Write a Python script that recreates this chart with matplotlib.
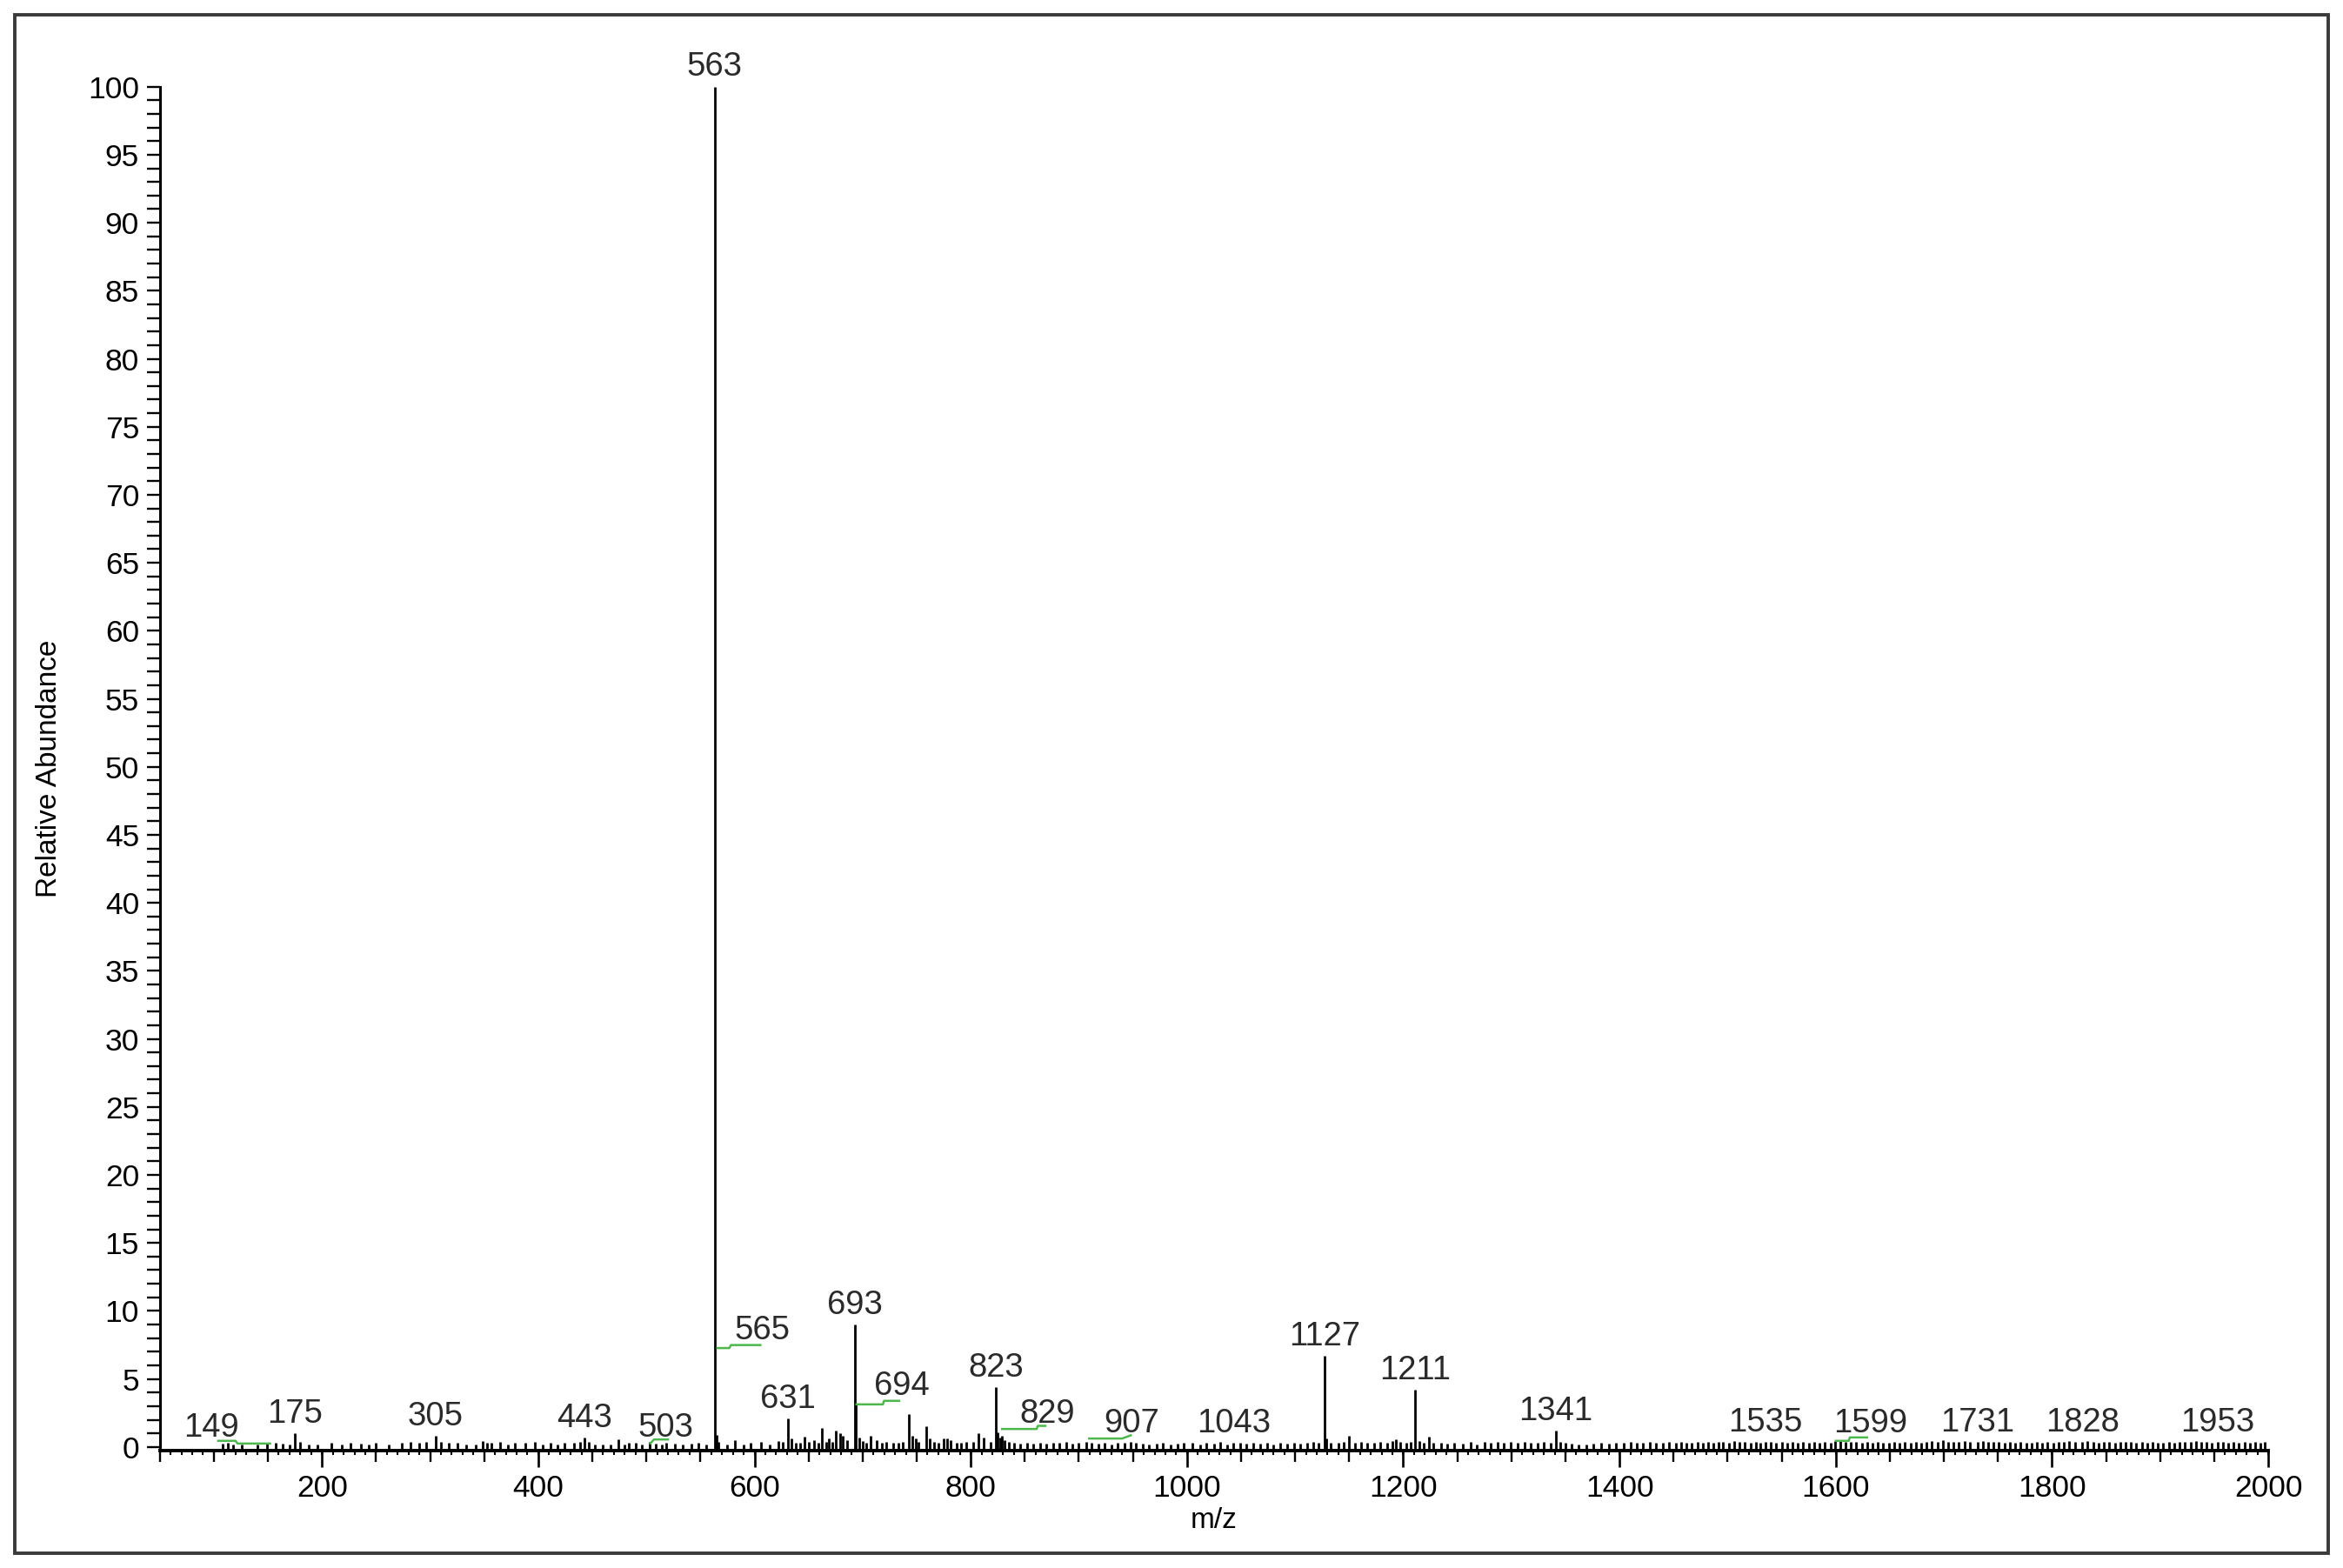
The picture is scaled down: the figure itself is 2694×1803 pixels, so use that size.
import matplotlib
matplotlib.use("Agg")
import matplotlib.pyplot as plt
from matplotlib.patches import Rectangle
from matplotlib.ticker import MultipleLocator

plt.rcParams['font.family'] = ['Liberation Sans', 'DejaVu Sans']

# --- labelled peaks (m/z, relative abundance) ---
label_mz = [149, 175, 305, 443, 503, 563, 565, 631, 693, 694, 823, 829,
            907, 1043, 1127, 1211, 1341, 1535, 1599, 1731, 1828, 1953]
label_ab = [0.3, 1.0, 0.8, 0.7, 0.35, 100, 0.9, 2.1, 9.0, 3.1, 4.4, 0.8,
            0.35, 0.3, 6.7, 4.2, 1.2, 0.35, 0.45, 0.35, 0.35, 0.35]

# --- other visible peaks ---
other_mz = [582, 596, 606, 622, 626, 634, 642, 646, 655, 662, 666, 669, 672,
            675, 679, 682, 686, 697, 700, 707, 713, 722, 743, 746, 749, 759,
            762, 766, 775, 778, 781, 796, 807, 812, 818, 825, 827, 831,
            1129, 1150, 1190, 1193, 1215, 1224, 1275]
other_ab = [0.5, 0.3, 0.35, 0.45, 0.35, 0.6, 0.3, 0.75, 0.5, 1.4, 0.4, 0.6, 0.4,
            1.2, 1.0, 0.8, 0.5, 0.7, 0.45, 0.8, 0.5, 0.35, 2.4, 0.8, 0.6, 1.5,
            0.6, 0.4, 0.6, 0.6, 0.5, 0.4, 1.0, 0.7, 0.35, 1.1, 0.7, 0.5,
            0.6, 0.8, 0.45, 0.55, 0.45, 0.75, 0.4]

# --- baseline noise ---
noise_mz = [108, 113, 118, 126, 140, 157, 164, 170, 180, 188, 196, 209, 218, 226,
            236, 243, 250, 262, 274, 282, 290, 296, 310, 317, 325, 333, 342, 349,
            353, 357, 365, 372, 378, 388, 397, 404, 411, 418, 424, 433, 439, 447,
            452, 460, 467, 474, 480, 484, 490, 496, 509, 514, 518, 526, 534, 542,
            548, 555, 567, 575, 590, 614, 638, 650, 659, 703, 718, 728, 733, 737,
            752, 770, 787, 791, 802, 835, 840, 846, 852, 858, 864, 870, 876, 882,
            888, 894, 900, 912, 918, 924, 930, 936, 942, 948, 953, 959, 965, 972,
            978, 985, 991, 997, 1005, 1012, 1018, 1025, 1031, 1037, 1049, 1055,
            1061, 1068, 1074, 1080, 1086, 1093, 1099, 1105, 1111, 1117, 1122,
            1133, 1140, 1145, 1155, 1161, 1167, 1173, 1179, 1185, 1197, 1203,
            1207, 1219, 1228, 1235, 1241, 1247, 1255, 1262, 1268, 1281, 1287,
            1293, 1299, 1306, 1312, 1318, 1324, 1330, 1336, 1345, 1350, 1356,
            1362, 1369, 1376, 1383, 1390, 1397, 1404, 1410, 1416, 1422, 1428,
            1434, 1440, 1446, 1452, 1457, 1462, 1467, 1472, 1477, 1482, 1487,
            1492, 1496, 1501, 1506, 1511, 1516, 1521, 1526, 1530, 1540, 1545,
            1550, 1555, 1560, 1565, 1570, 1575, 1580, 1585, 1590, 1595, 1604,
            1609, 1614, 1619, 1624, 1629, 1634, 1639, 1644, 1649, 1654, 1659,
            1664, 1669, 1674, 1679, 1684, 1689, 1694, 1699, 1704, 1709, 1714,
            1719, 1724, 1736, 1741, 1746, 1751, 1756, 1761, 1766, 1771, 1776,
            1781, 1786, 1791, 1796, 1801, 1806, 1811, 1816, 1821, 1833, 1838,
            1843, 1848, 1853, 1858, 1863, 1868, 1873, 1878, 1883, 1888, 1893,
            1898, 1903, 1908, 1913, 1918, 1923, 1928, 1933, 1938, 1943, 1948,
            1958, 1963, 1968, 1973, 1978, 1983, 1988, 1993, 1997]
noise_ab = [0.25, 0.3, 0.2, 0.15, 0.15, 0.3, 0.25, 0.2, 0.35, 0.2, 0.15, 0.3, 0.2, 0.3,
            0.25, 0.15, 0.3, 0.15, 0.3, 0.35, 0.3, 0.4, 0.35, 0.3, 0.3, 0.2, 0.2, 0.45,
            0.3, 0.3, 0.35, 0.2, 0.3, 0.3, 0.35, 0.2, 0.3, 0.15, 0.3, 0.3, 0.35, 0.4,
            0.2, 0.2, 0.15, 0.55, 0.2, 0.3, 0.3, 0.2, 0.25, 0.2, 0.3, 0.25, 0.2, 0.25,
            0.3, 0.2, 0.4, 0.2, 0.2, 0.2, 0.3, 0.35, 0.3, 0.3, 0.3, 0.3, 0.3, 0.35,
            0.4, 0.3, 0.3, 0.3, 0.4, 0.35, 0.3, 0.25, 0.3, 0.25, 0.3, 0.25, 0.3, 0.3,
            0.35, 0.25, 0.3, 0.3, 0.25, 0.3, 0.2, 0.3, 0.3, 0.35, 0.3, 0.25, 0.2, 0.25,
            0.3, 0.2, 0.25, 0.3, 0.3, 0.2, 0.3, 0.25, 0.35, 0.2, 0.3, 0.25,
            0.3, 0.25, 0.3, 0.2, 0.3, 0.25, 0.3, 0.25, 0.3, 0.35, 0.3,
            0.3, 0.3, 0.35, 0.3, 0.35, 0.3, 0.3, 0.35, 0.3, 0.4, 0.3,
            0.35, 0.3, 0.3, 0.3, 0.25, 0.3, 0.25, 0.35, 0.2, 0.3, 0.35,
            0.3, 0.35, 0.3, 0.35, 0.3, 0.3, 0.35, 0.3, 0.35, 0.3, 0.25,
            0.2, 0.2, 0.25, 0.3, 0.25, 0.3, 0.3, 0.35, 0.3, 0.3, 0.35,
            0.3, 0.3, 0.35, 0.3, 0.35, 0.3, 0.3, 0.35, 0.3, 0.35, 0.3,
            0.35, 0.4, 0.3, 0.45, 0.35, 0.4, 0.3, 0.35, 0.3, 0.35, 0.3,
            0.4, 0.3, 0.35, 0.3, 0.4, 0.3, 0.35, 0.3, 0.35, 0.3, 0.45,
            0.4, 0.35, 0.4, 0.3, 0.35, 0.3, 0.35, 0.3, 0.3, 0.35, 0.3,
            0.35, 0.3, 0.35, 0.3, 0.4, 0.45, 0.35, 0.5, 0.4, 0.35, 0.4,
            0.45, 0.4, 0.45, 0.35, 0.4, 0.35, 0.3, 0.35, 0.3, 0.35, 0.3,
            0.3, 0.35, 0.3, 0.35, 0.3, 0.35, 0.4, 0.45, 0.35, 0.45, 0.35,
            0.3, 0.4, 0.35, 0.3, 0.35, 0.4, 0.35, 0.3, 0.35, 0.3, 0.35,
            0.3, 0.3, 0.35, 0.3, 0.35, 0.4, 0.35, 0.45, 0.4, 0.35, 0.3,
            0.35, 0.3, 0.35, 0.3, 0.35, 0.3, 0.35, 0.3, 0.4]

# --- green label leaders (m/z, abundance) ---
leaders = {
    149: ([103, 120, 122, 153], [0.45, 0.45, 0.25, 0.25]),
    503: ([503, 507, 521], [0.2, 0.55, 0.55]),
    565: ([564.6, 576.7, 578.3, 606.5], [7.27, 7.27, 7.49, 7.49]),
    694: ([693.3, 718.8, 719.8, 734.8], [3.13, 3.13, 3.39, 3.39]),
    829: ([828, 861, 862, 870], [1.32, 1.32, 1.55, 1.55]),
    907: ([908.5, 940, 949], [0.62, 0.62, 0.88]),
    1599: ([1599, 1612, 1613, 1630], [0.45, 0.45, 0.7, 0.7]),
}

# where displaced labels sit (text baseline)
label_at = {149: (98, 0.77), 503: (518, 0.77), 565: (607, 7.9),
            694: (736, 3.85), 829: (871, 1.76), 907: (949, 1.1),
            1599: (1632, 1.1)}

Y0 = -0.3

fig = plt.figure(figsize=(26.94, 18.03), dpi=100)
fig.patches.append(Rectangle((0.0064, 0.0095), 0.9872, 0.981, transform=fig.transFigure,
                             fill=False, edgecolor='#3a3a3a', lw=2.8))
ax = fig.add_axes([0.0682, 0.0746, 0.8999, 0.8701])

all_mz = label_mz + other_mz + noise_mz
all_ab = label_ab + other_ab + noise_ab
ax.vlines(all_mz, Y0, all_ab, colors='black', lw=2.0)

for xs, ys in leaders.values():
    ax.plot(xs, ys, color='#4cb84c', lw=1.8, solid_capstyle='butt')

for mz, ab in zip(label_mz, label_ab):
    if mz in label_at:
        lx, ly = label_at[mz]
        ax.text(lx, ly, str(mz), ha='center', va='baseline', fontsize=27.5,
                color='#2a2a2a')
    else:
        ax.annotate(str(mz), (mz, ab), xytext=(0, 8.8), textcoords='offset points',
                    ha='center', va='baseline', fontsize=27.5, color='#2a2a2a',
                    annotation_clip=False)

ax.set_xlim(50, 2000)
ax.set_ylim(Y0, 100)

for s in ['top', 'right']:
    ax.spines[s].set_visible(False)
ax.spines['left'].set_linewidth(2.2)
ax.spines['bottom'].set_linewidth(2.8)
ax.spines['left'].set_bounds(0, 100)

ax.yaxis.set_major_locator(MultipleLocator(5))
ax.yaxis.set_minor_locator(MultipleLocator(1))
ax.xaxis.set_major_locator(MultipleLocator(200))
ax.xaxis.set_minor_locator(MultipleLocator(50))

ax.tick_params(axis='y', which='both', direction='out', length=11, width=1.7,
               labelsize=25.5, pad=6)
ax.tick_params(axis='x', which='major', direction='out', length=14, width=1.9,
               labelsize=25.5, pad=5)
ax.tick_params(axis='x', which='minor', direction='out', length=9, width=1.7)

sec = ax.secondary_xaxis('bottom')
sec.xaxis.set_major_locator(MultipleLocator(10))
sec.tick_params(axis='x', direction='out', length=3.5, width=1.5, labelbottom=False)
sec.spines['bottom'].set_visible(False)

ax.set_ylabel('Relative Abundance', fontsize=24)
ax.yaxis.set_label_coords(-0.046, 0.5)
ax.set_xlabel('m/z', fontsize=24, va='top')
ax.xaxis.set_label_coords(0.5, -0.041)

fig.savefig('out.png', dpi=100)
